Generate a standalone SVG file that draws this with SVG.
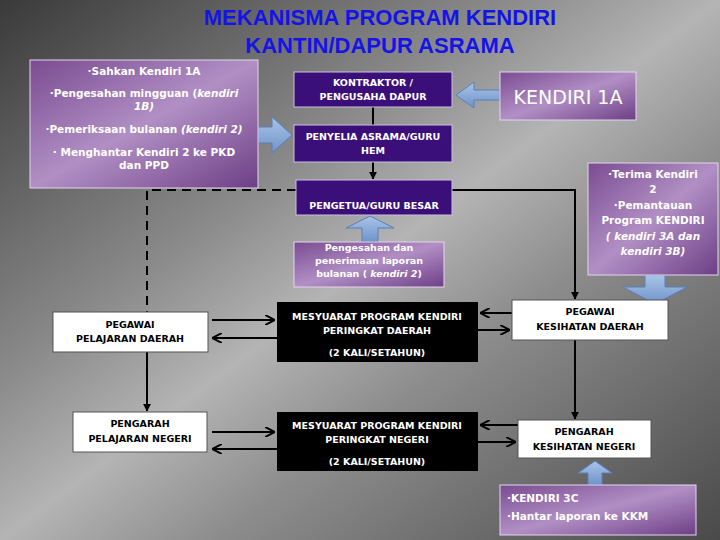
<svg xmlns="http://www.w3.org/2000/svg" width="720" height="540" viewBox="0 0 720 540">
<defs>
<linearGradient id="bg" x1="0" y1="0" x2="1" y2="1">
<stop offset="0" stop-color="#3a3a3a"/><stop offset="0.35" stop-color="#8a8a8a"/><stop offset="0.5" stop-color="#b4b4b4"/><stop offset="0.65" stop-color="#8c8c8c"/><stop offset="1" stop-color="#4a4a4a"/>
</linearGradient>
<linearGradient id="pur" x1="0" y1="0" x2="1" y2="1">
<stop offset="0" stop-color="#7a4c92"/><stop offset="0.5" stop-color="#b18fc4"/><stop offset="1" stop-color="#6d3f86"/>
</linearGradient>
<linearGradient id="blu" x1="0" y1="0" x2="0" y2="1">
<stop offset="0" stop-color="#a9c4e8"/><stop offset="1" stop-color="#6f93c9"/>
</linearGradient>
<marker id="ah" viewBox="0 0 10 10" refX="9" refY="5" markerWidth="4" markerHeight="4" orient="auto"><path d="M0,0L10,5L0,10z" fill="#000"/></marker>
<marker id="oh" viewBox="0 0 10 10" refX="9" refY="5" markerWidth="5" markerHeight="5" orient="auto"><path d="M0,0L10,5L0,10" fill="none" stroke="#000" stroke-width="2"/></marker>
</defs>
<style>
text{font-family:"DejaVu Sans",sans-serif;text-anchor:middle;font-weight:bold}
.t{font-family:"Liberation Sans",Arial,sans-serif;font-weight:bold;font-size:22px;fill:#1414e6}
.k{font-weight:normal;font-size:19px;fill:#fff}
.dk{fill:#3b0f7a;stroke:#c9c0dc;stroke-width:1}
.bk{fill:#000}
.wh{fill:#fff;stroke:#555;stroke-width:1}
.pu{fill:url(#pur);stroke:#e4d6ee;stroke-width:1}
.s{font-size:9.5px;fill:#fff}
.b{font-size:9.5px;fill:#000}
.p{font-size:10.5px;fill:#fff}
.ba{fill:url(#blu);stroke:#5b7fb8;stroke-width:1}
.ln{stroke:#000;stroke-width:2;fill:none}
</style>
<rect width="720" height="540" fill="url(#bg)"/>
<text class="t" x="380" y="25">MEKANISMA PROGRAM KENDIRI</text>
<text class="t" x="380" y="53">KANTIN/DAPUR ASRAMA</text>
<g id="arrows-fat">
<path class="ba" d="M258,127h14v-10l20,18l-20,18v-10h-14z"/>
<path class="ba" d="M500,90h-26v-8l-18,13l18,13v-8h26z"/>
<path class="ba" d="M362,242v-14h-16l24,-12l24,12h-16v14z"/>
<path class="ba" d="M645,275v12h-22l32,17l32,-17h-22v-12z"/>
<path class="ba" d="M588,485v-12h-10l17,-12l17,12h-10v12z"/>
</g>
<g id="connectors">
<line class="ln" x1="373" y1="107" x2="373" y2="125"/>
<line class="ln" x1="373" y1="162" x2="373" y2="179" marker-end="url(#ah)"/>
<polyline class="ln" points="452,190 575,190 575,299" marker-end="url(#ah)"/>
<polyline class="ln" points="296,190 147,190 147,312" stroke-dasharray="9,6" stroke-width="2.5"/>
<line class="ln" x1="147" y1="352" x2="147" y2="411" marker-end="url(#ah)"/>
<line class="ln" x1="575" y1="340" x2="575" y2="419" marker-end="url(#ah)"/>
<line class="ln" x1="212" y1="320" x2="274" y2="320" marker-end="url(#oh)"/>
<line class="ln" x1="277" y1="338" x2="213" y2="338" marker-end="url(#oh)"/>
<line class="ln" x1="512" y1="313" x2="481" y2="313" marker-end="url(#oh)"/>
<line class="ln" x1="478" y1="330" x2="509" y2="330" marker-end="url(#oh)"/>
<line class="ln" x1="212" y1="432" x2="274" y2="432" marker-end="url(#oh)"/>
<line class="ln" x1="277" y1="449" x2="213" y2="449" marker-end="url(#oh)"/>
<line class="ln" x1="518" y1="425" x2="481" y2="425" marker-end="url(#oh)"/>
<line class="ln" x1="478" y1="442" x2="515" y2="442" marker-end="url(#oh)"/>
</g>
<g id="n-left"><rect class="pu" x="30" y="60" width="228" height="128"/>
<text class="p" x="144" y="75">·Sahkan Kendiri 1A</text>
<text class="p" x="144" y="97">·Pengesahan mingguan (<tspan font-style="italic">kendiri</tspan></text>
<text class="p" x="144" y="110" font-style="italic">1B)</text>
<text class="p" x="144" y="133">·Pemeriksaan bulanan <tspan font-style="italic">(kendiri 2)</tspan></text>
<text class="p" x="144" y="156">· Menghantar Kendiri 2 ke PKD</text>
<text class="p" x="144" y="169">dan PPD</text></g>
<g id="n-kontraktor"><rect class="dk" x="294" y="72" width="158" height="35"/>
<text class="s" x="373" y="86">KONTRAKTOR /</text><text class="s" x="373" y="100">PENGUSAHA  DAPUR</text></g>
<g id="n-penyelia"><rect class="dk" x="294" y="125" width="158" height="37"/>
<text class="s" x="373" y="140">PENYELIA  ASRAMA/GURU</text><text class="s" x="373" y="154">HEM</text></g>
<g id="n-pengetua"><rect class="dk" x="296" y="180" width="156" height="35"/>
<text class="s" x="374" y="209">PENGETUA/GURU BESAR</text></g>
<g id="n-pengesahan"><rect class="pu" x="294" y="242" width="150" height="45"/>
<text class="s" x="369" y="251">Pengesahan dan</text><text class="s" x="369" y="264">penerimaan laporan</text>
<text class="s" x="369" y="277">bulanan ( <tspan font-style="italic">kendiri 2</tspan>)</text></g>
<g id="n-kendiri1a"><rect class="pu" x="500" y="72" width="136" height="48"/>
<text class="k" x="568" y="104">KENDIRI 1A</text></g>
<g id="n-terima"><rect class="pu" x="588" y="163" width="130" height="112"/>
<text class="p" x="653" y="178">·Terima Kendiri</text><text class="p" x="653" y="193">2</text>
<text class="p" x="653" y="209">·Pemantauan</text><text class="p" x="653" y="224">Program KENDIRI</text>
<text class="p" x="653" y="240" font-style="italic">( kendiri 3A dan</text><text class="p" x="653" y="255" font-style="italic">kendiri 3B)</text></g>
<g id="n-ppd"><rect class="wh" x="53" y="312" width="155" height="40"/>
<text class="b" x="130" y="328">PEGAWAI</text><text class="b" x="130" y="342">PELAJARAN DAERAH</text></g>
<g id="n-mesy-daerah"><rect class="bk" x="277" y="302" width="201" height="60"/>
<text class="s" x="377" y="320">MESYUARAT PROGRAM KENDIRI</text><text class="s" x="377" y="334">PERINGKAT DAERAH</text>
<text class="s" x="377" y="356">(2 KALI/SETAHUN)</text></g>
<g id="n-pkd"><rect class="wh" x="512" y="300" width="156" height="40"/>
<text class="b" x="590" y="315">PEGAWAI</text><text class="b" x="590" y="330">KESIHATAN DAERAH</text></g>
<g id="n-ppn"><rect class="wh" x="73" y="412" width="134" height="40"/>
<text class="b" x="140" y="427">PENGARAH</text><text class="b" x="140" y="442">PELAJARAN NEGERI</text></g>
<g id="n-mesy-negeri"><rect class="bk" x="277" y="412" width="201" height="59"/>
<text class="s" x="377" y="429">MESYUARAT PROGRAM KENDIRI</text><text class="s" x="377" y="443">PERINGKAT NEGERI</text>
<text class="s" x="377" y="465">(2 KALI/SETAHUN)</text></g>
<g id="n-pkn"><rect class="wh" x="518" y="420" width="133" height="38"/>
<text class="b" x="584" y="435">PENGARAH</text><text class="b" x="584" y="450">KESIHATAN NEGERI</text></g>
<g id="n-3c"><rect class="pu" x="500" y="485" width="196" height="50"/>
<text class="p" x="507" y="502" style="text-anchor:start" font-size="12">·KENDIRI 3C</text>
<text class="p" x="507" y="520" style="text-anchor:start" font-size="12">·Hantar laporan ke KKM</text></g>
</svg>
